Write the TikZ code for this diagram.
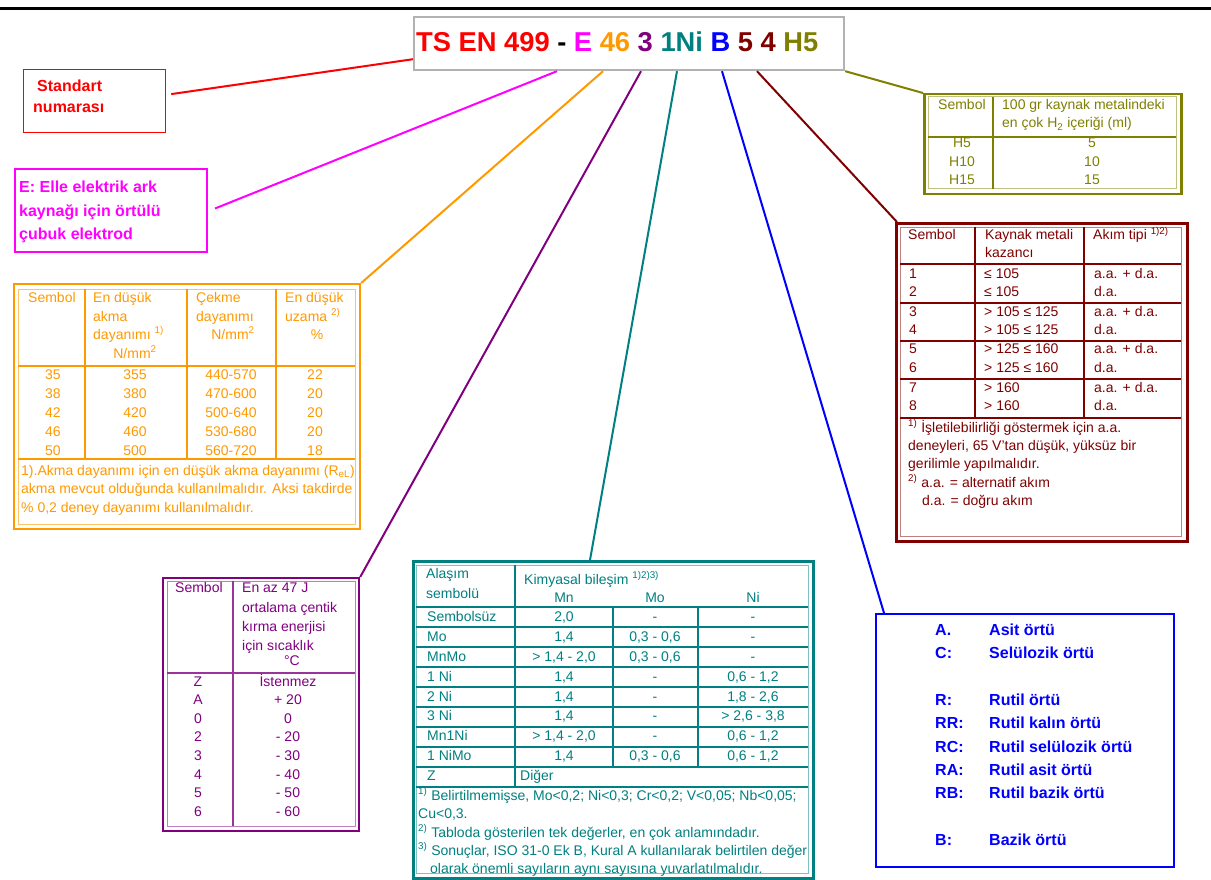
\documentclass[tikz,border=0pt]{standalone}
\usepackage{fontspec}
\setmainfont{Liberation Sans}
\usetikzlibrary{calc}
\definecolor{cred}{HTML}{FF0000}
\definecolor{cmag}{HTML}{FF00FF}
\definecolor{corg}{HTML}{FF9900}
\definecolor{cpur}{HTML}{800080}
\definecolor{cteal}{HTML}{008080}
\definecolor{cblue}{HTML}{0000FF}
\definecolor{cbrn}{HTML}{800000}
\definecolor{coli}{HTML}{808000}
\begin{document}
\begin{tikzpicture}[x=1pt,y=-1pt,
  tx/.style={inner sep=0pt, anchor=base west, font=\fontsize{14}{16}\selectfont},
  txc/.style={tx, anchor=base},
  big/.style={inner sep=0pt, anchor=base west, font=\fontsize{16}{18}\selectfont\bfseries},
  bx/.style={draw, anchor=north west, inner sep=0pt},
  conn/.style={line width=2pt},
]
\useasboundingbox (0,0) rectangle (1211,880);
\fill[white] (0,0) rectangle (1211,880);
\draw[line width=2.7pt] (0,8.7) -- (1211,8.7);

% title
\node[bx, draw=gray!60, line width=2.2pt, minimum width=430, minimum height=53] (title) at (413,16) {};
\node[inner sep=0pt, anchor=base west, font=\fontsize{27.3}{28}\selectfont\bfseries] (ttext) at (416,52)
 {\textcolor{cred}{TS EN 499} - \textcolor{cmag}{E} \textcolor{corg}{46} \textcolor{cpur}{3} \textcolor{cteal}{1Ni} \textcolor{cblue}{B} \textcolor{cbrn}{5 4} \textcolor{coli}{H5}};

% Standart box
\node[bx, draw=cred, line width=1.2pt, minimum width=142, minimum height=63] (std) at (23,69) {};
\node[big, text=cred] (std1) at (37,92) {Standart};
\node[big, text=cred] (std2) at (33,113) {numarası};

% E box
\node[bx, draw=cmag, line width=2pt, minimum width=192, minimum height=83] (ebox) at (14,168) {};
\node[big, text=cmag] (e1) at (19,193) {E: Elle elektrik ark};
\node[big, text=cmag] (e2) at (19,217) {kaynağı için örtülü};
\node[big, text=cmag] (e3) at (19,240) {çubuk elektrod};

% orange table
\node[bx, draw=corg, line width=2.2pt, minimum width=346, minimum height=245] (otab) at (13,283) {};
\draw[corg!60, line width=1pt] (18,289) rectangle (355,524);
\draw[corg, line width=1.6pt] (18,366) -- (355,366) (18,459) -- (355,459)
  (85,289) -- (85,459) (187,289) -- (187,459) (276,289) -- (276,459);
\begin{scope}[every node/.append style={text=corg}]
\node[tx] (oh1) at (28,302) {Sembol};
\node[tx] (oh2) at (93,302) {En düşük};
\node[tx] (oh3) at (93,321) {akma};
\node[tx] (oh4) at (93,339) {dayanımı \textsuperscript{1)}};
\node[txc] (oh5) at (135,358) {N/mm\textsuperscript{2}};
\node[tx] (oh6) at (196,302) {Çekme};
\node[tx] (oh7) at (196,321) {dayanımı};
\node[txc] (oh8) at (233,339) {N/mm\textsuperscript{2}};
\node[tx] (oh9) at (285,302) {En düşük};
\node[tx] (oh10) at (285,321) {uzama \textsuperscript{2)}};
\node[txc] (oh11) at (317,339) {\%};
\foreach \a/\b/\c/\d [count=\i] in {35/355/440-570/22, 38/380/470-600/20, 42/420/500-640/20, 46/460/530-680/20, 50/500/560-720/18}{
  \node[txc] (oa\i) at (53,{360+19*\i}) {\a};
  \node[txc] (ob\i) at (135,{360+19*\i}) {\b};
  \node[txc] (oc\i) at (231,{360+19*\i}) {\c};
  \node[txc] (od\i) at (315,{360+19*\i}) {\d};
}
\node[tx] (of1) at (21,475) {1).Akma dayanımı için en düşük akma dayanımı (R\textsubscript{eL})};
\node[tx] (of2) at (21,493) {akma mevcut olduğunda kullanılmalıdır. Aksi takdirde};
\node[tx] (of3) at (21,512) {\% 0,2 deney dayanımı kullanılmalıdır.};
\end{scope}

% purple table
\node[bx, draw=cpur, line width=2.2pt, minimum width=196, minimum height=253] (ptab) at (162,577) {};
\draw[cpur!50, line width=1pt] (167,581) rectangle (355,826);
\draw[cpur!80, line width=1.4pt] (167,673) -- (355,673) (233,581) -- (233,826);
\begin{scope}[every node/.append style={text=cpur}]
\node[tx] (ph1) at (175,592) {Sembol};
\node[tx] (ph2) at (242,592) {En az 47 J};
\node[tx] (ph3) at (242,612) {ortalama çentik};
\node[tx] (ph4) at (242,631) {kırma enerjisi};
\node[tx] (ph5) at (242,650) {için sıcaklık};
\node[txc] (ph6) at (292,665) {°C};
\foreach \a/\b [count=\i] in {Z/İstenmez, A/+ 20, 0/0, 2/- 20, 3/- 30, 4/- 40, 5/- 50, 6/- 60}{
  \node[txc] (pa\i) at (198,{667.5+18.6*\i}) {\a};
  \node[txc] (pb\i) at (288,{667.5+18.6*\i}) {\b};
}
\end{scope}

% teal table
\node[bx, draw=cteal, line width=2.5pt, minimum width=400, minimum height=317] (ttab) at (412,560) {};
\draw[cteal!50, line width=1pt] (416,565) rectangle (808,873);
\foreach \k in {0,...,9}{\draw[cteal, line width=1.4pt] (416,{607+20*\k}) -- (808,{607+20*\k});}
\draw[cteal, line width=1.4pt] (515,565) -- (515,787) (613,607) -- (613,767) (698,607) -- (698,767);
\begin{scope}[every node/.append style={text=cteal}]
\node[tx] (th1) at (426,578) {Alaşım};
\node[tx] (th2) at (426,598) {sembolü};
\node[tx] (th3) at (524,584) {Kimyasal bileşim \textsuperscript{1)2)3)}};
\node[txc] (th4) at (564,602) {Mn};
\node[txc] (th5) at (655,602) {Mo};
\node[txc] (th6) at (753,602) {Ni};
\node[tx] (ta1) at (427,621.8) {Sembolsüz};
\node[txc] (tb1) at (564,621.8) {2,0};
\node[txc] (tc1) at (655,621.8) {-};
\node[txc] (td1) at (753,621.8) {-};
\node[tx] (ta2) at (427,641.6) {Mo};
\node[txc] (tb2) at (564,641.6) {1,4};
\node[txc] (tc2) at (655,641.6) {0,3 - 0,6};
\node[txc] (td2) at (753,641.6) {-};
\node[tx] (ta3) at (427,661.4) {MnMo};
\node[txc] (tb3) at (564,661.4) {> 1,4 - 2,0};
\node[txc] (tc3) at (655,661.4) {0,3 - 0,6};
\node[txc] (td3) at (753,661.4) {-};
\node[tx] (ta4) at (427,681.2) {1 Ni};
\node[txc] (tb4) at (564,681.2) {1,4};
\node[txc] (tc4) at (655,681.2) {-};
\node[txc] (td4) at (753,681.2) {0,6 - 1,2};
\node[tx] (ta5) at (427,701) {2 Ni};
\node[txc] (tb5) at (564,701) {1,4};
\node[txc] (tc5) at (655,701) {-};
\node[txc] (td5) at (753,701) {1,8 - 2,6};
\node[tx] (ta6) at (427,720.8) {3 Ni};
\node[txc] (tb6) at (564,720.8) {1,4};
\node[txc] (tc6) at (655,720.8) {-};
\node[txc] (td6) at (753,720.8) {> 2,6 - 3,8};
\node[tx] (ta7) at (427,740.6) {Mn1Ni};
\node[txc] (tb7) at (564,740.6) {> 1,4 - 2,0};
\node[txc] (tc7) at (655,740.6) {-};
\node[txc] (td7) at (753,740.6) {0,6 - 1,2};
\node[tx] (ta8) at (427,760.4) {1 NiMo};
\node[txc] (tb8) at (564,760.4) {1,4};
\node[txc] (tc8) at (655,760.4) {0,3 - 0,6};
\node[txc] (td8) at (753,760.4) {0,6 - 1,2};
\node[tx] (ta9) at (427,780.2) {Z};
\node[tx] (tb9) at (520,780.2) {Diğer};
\node[tx] (tf1) at (418,800) {\textsuperscript{1)} Belirtilmemişse, Mo<0,2; Ni<0,3; Cr<0,2; V<0,05; Nb<0,05;};
\node[tx] (tf2) at (418,818) {Cu<0,3.};
\node[tx] (tf3) at (418,837) {\textsuperscript{2)} Tabloda gösterilen tek değerler, en çok anlamındadır.};
\node[tx] (tf4) at (418,855) {\textsuperscript{3)} Sonuçlar, ISO 31-0 Ek B, Kural A kullanılarak belirtilen değer};
\node[tx] (tf5) at (430,873) {olarak önemli sayıların aynı sayısına yuvarlatılmalıdır.};
\end{scope}

% H table
\node[bx, draw=coli, line width=2.5pt, minimum width=257, minimum height=100] (htab) at (923,93) {};
\draw[coli!50, line width=1pt] (928,97) rectangle (1176,189);
\draw[coli, line width=1.4pt] (928,137) -- (1176,137) (993,97) -- (993,189);
\begin{scope}[every node/.append style={text=coli}]
\node[tx] (hh1) at (938,110) {Sembol};
\node[tx] (hh2) at (1002,110) {100 gr kaynak metalindeki};
\node[tx] (hh3) at (1002,128) {en çok H\textsubscript{2} içeriği (ml)};
\foreach \a/\b/\y [count=\i] in {H5/5/148, H10/10/167, H15/15/185}{
  \node[txc] (ha\i) at (962,\y) {\a};
  \node[txc] (hb\i) at (1092,\y) {\b};
}
\end{scope}

% brown table
\node[bx, draw=cbrn, line width=2.5pt, minimum width=291, minimum height=318] (rtab) at (895,222) {};
\draw[cbrn!50, line width=1pt] (900,227) rectangle (1181,536);
\draw[cbrn, line width=1.4pt] (900,264) -- (1181,264) (900,303) -- (1181,303) (900,341) -- (1181,341)
  (900,379) -- (1181,379) (900,418) -- (1181,418) (975,227) -- (975,418) (1084,227) -- (1084,418);
\begin{scope}[every node/.append style={text=cbrn}]
\node[tx] (rh1) at (908,240) {Sembol};
\node[tx] (rh2) at (985,240) {Kaynak metali};
\node[tx] (rh3) at (985,258) {kazancı};
\node[tx] (rh4) at (1093,240) {Akım tipi \textsuperscript{1)2)}};
\foreach \s/\k/\a/\y [count=\i] in {1/≤ 105/a.a. + d.a./278, 2/≤ 105/d.a./296, 3/> 105 ≤ 125/a.a. + d.a./316, 4/> 105 ≤ 125/d.a./334, 5/> 125 ≤ 160/a.a. + d.a./353, 6/> 125 ≤ 160/d.a./372, 7/> 160/a.a. + d.a./392, 8/> 160/d.a./410}{
  \node[tx] (ra\i) at (909,\y) {\s};
  \node[tx] (rb\i) at (984,\y) {\k};
  \node[tx] (rc\i) at (1094,\y) {\a};
}
\node[tx] (rf1) at (908,432) {\textsuperscript{1)} İşletilebilirliği göstermek için a.a.};
\node[tx] (rf2) at (908,450) {deneyleri, 65 V'tan düşük, yüksüz bir};
\node[tx] (rf3) at (908,468) {gerilimle yapılmalıdır.};
\node[tx] (rf4) at (908,487) {\textsuperscript{2)}\hspace{4pt}a.a. = alternatif akım};
\node[tx] (rf5) at (922,505) {d.a. = doğru akım};
\end{scope}

% blue box
\node[bx, draw=cblue, line width=2.2pt, minimum width=298, minimum height=253] (bbox) at (875,613) {};
\foreach \a/\b/\y [count=\i] in {A./Asit örtü/635, C:/Selülozik örtü/658, R:/Rutil örtü/705, RR:/Rutil kalın örtü/728, RC:/Rutil selülozik örtü/752, RA:/Rutil asit örtü/775, RB:/Rutil bazik örtü/798, B:/Bazik örtü/845}{
  \node[big, text=cblue] (ba\i) at (935,\y) {\a};
  \node[big, text=cblue] (bb\i) at (989,\y) {\b};
}

% connectors
\draw[conn, cred] ($(std.east)+(5,-7)$) -- ($(title.south west)+(0,-12)$);
\draw[conn, cmag] ($(ebox.east)+(7,-2)$) -- ($(title.south west)+(144,0)$);
\draw[conn, corg] (otab.north east) -- ($(title.south west)+(190,0)$);
\draw[conn, cpur] (ptab.north east) -- ($(title.south west)+(228,0)$);
\draw[conn, cteal] ($(ttab.north west)+(178,0)$) -- ($(title.south west)+(264,0)$);
\draw[conn, cblue] ($(bbox.north west)+(9,0)$) -- ($(title.south west)+(309,0)$);
\draw[conn, cbrn] ($(rtab.north west)+(2,0)$) -- ($(title.south west)+(344,0)$);
\draw[conn, coli] (title.south east) -- (htab.north west);
\end{tikzpicture}
\end{document}
